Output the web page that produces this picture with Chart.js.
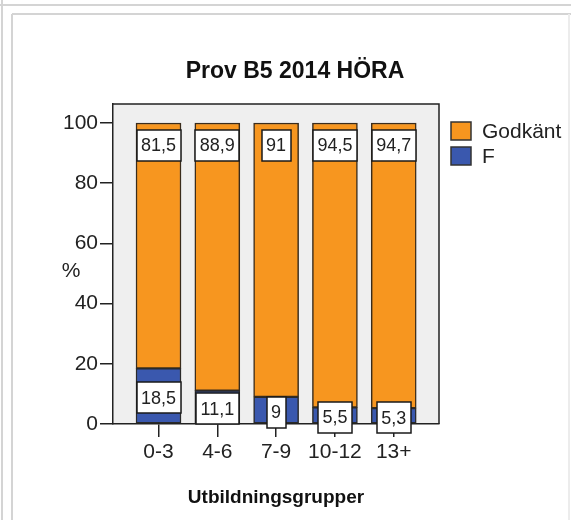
<!DOCTYPE html>
<html>
<head>
<meta charset="utf-8">
<script src="https://cdn.jsdelivr.net/npm/chart.js@4/dist/chart.umd.min.js"></script>
<style>
  html, body { margin: 0; padding: 0; background: #fff; }
  canvas { display: block; }
</style>
</head>
<body>
<canvas id="chart" width="571" height="520"></canvas>
<script>
// ===========================================================================
// data

const categories = ['0-3', '4-6', '7-9', '10-12', '13+'];
const godkantValues = [81.5, 88.9, 91, 94.5, 94.7];
const fValues = [18.5, 11.1, 9, 5.5, 5.3];
const seriesNames = ['Godkänt', 'F'];
const yTickValues = [0, 20, 40, 60, 80, 100];

const chartTitle = 'Prov B5 2014 HÖRA';
const xTitle = 'Utbildningsgrupper';
const yTitle = '%';

const orange = '#F7961F';
const blue = '#3A58AE';
const dark = '#222';
const FONT = '"Liberation Sans", Arial, sans-serif';

// ===========================================================================

function fmt(v) {
  return String(v).replace('.', ',');
}

const framePlugin = {
  id: 'frame',
  beforeDraw(chart) {
    const c = chart.ctx, a = chart.chartArea;
    c.save();
    c.fillStyle = '#fff';
    c.fillRect(0, 0, chart.width, chart.height);
    // light grey page frame
    c.strokeStyle = '#d4d4d4';
    c.lineWidth = 2;
    c.beginPath();
    c.moveTo(0, 5); c.lineTo(chart.width, 5);
    c.moveTo(12, 14); c.lineTo(chart.width, 14);
    c.moveTo(2, 0); c.lineTo(2, chart.height);
    c.moveTo(12, 14); c.lineTo(12, chart.height);
    c.stroke();
    c.strokeStyle = '#ececec';
    c.beginPath();
    c.moveTo(569, 14); c.lineTo(569, chart.height);
    c.stroke();
    // plot background
    c.fillStyle = '#EFEFEF';
    c.fillRect(a.left, a.top, a.right - a.left, a.bottom - a.top);
    c.restore();
  },
  afterDraw(chart) {
    const c = chart.ctx, a = chart.chartArea;
    c.save();
    // top and right border of plot
    c.strokeStyle = dark;
    c.lineWidth = 1.5;
    c.beginPath();
    c.moveTo(a.left, a.top); c.lineTo(a.right, a.top); c.lineTo(a.right, a.bottom);
    c.stroke();

    // title
    c.fillStyle = '#111';
    c.textAlign = 'center';
    c.textBaseline = 'middle';
    c.font = 'bold 23px ' + FONT;
    c.fillText(chartTitle, 295, 72);

    // y title
    c.font = '21px ' + FONT;
    c.fillStyle = dark;
    c.fillText(yTitle, 71, 271);

    // legend
    const items = chart.data.datasets.slice().reverse();
    c.textAlign = 'left';
    items.forEach((ds, k) => {
      const y = 122 + k * 25;
      c.fillStyle = ds.backgroundColor;
      c.fillRect(451, y, 20, 18);
      c.strokeStyle = '#333';
      c.lineWidth = 1.5;
      c.strokeRect(451, y, 20, 18);
      c.fillStyle = dark;
      c.fillText(ds.label, 482, y + 10);
    });
    c.restore();
  },
  afterDatasetsDraw(chart) {
    const c = chart.ctx;
    c.save();
    c.font = '18px ' + FONT;
    c.textAlign = 'center';
    c.textBaseline = 'middle';
    chart.data.datasets.forEach((ds, di) => {
      const meta = chart.getDatasetMeta(di);
      meta.data.forEach((bar, i) => {
        const txt = fmt(ds.data[i].y);
        const w = Math.round(c.measureText(txt).width + 9);
        const h = 31;
        let cy;
        if (di === 0) cy = (bar.y + bar.base) / 2 + 2;
        else cy = bar.y + 7 + h / 2;
        const x0 = Math.round(bar.x - w / 2), y0 = Math.round(cy - h / 2);
        c.fillStyle = '#fff';
        c.fillRect(x0, y0, w, h);
        c.strokeStyle = '#1a1a1a';
        c.lineWidth = 1.5;
        c.strokeRect(x0, y0, w, h);
        c.fillStyle = dark;
        c.fillText(txt, bar.x, cy + 1);
      });
    });
    c.restore();
  }
};

// ===========================================================================

const config = {
  type: 'bar',
  data: {
    datasets: [{
      label: seriesNames[1],
      data: fValues.map((v, i) => ({ x: i, y: v })),
      backgroundColor: blue,
      borderColor: '#2a2a2a',
      borderWidth: 1.5,
      borderSkipped: false,
      barThickness: 45,
    }, {
      label: seriesNames[0],
      data: godkantValues.map((v, i) => ({ x: i, y: v })),
      backgroundColor: orange,
      borderColor: '#3a2c1c',
      borderWidth: 1.5,
      borderSkipped: false,
      barThickness: 45,
    }]
  },
  options: {
    responsive: false,
    animation: false,
    devicePixelRatio: 1,
    layout: { padding: { left: 0, right: 132, top: 104, bottom: 0 } },
    plugins: {
      legend: { display: false },
      title: { display: false },
      tooltip: { enabled: false },
    },
    scales: {
      x: {
        type: 'linear',
        stacked: true,
        offset: false,
        min: -0.774,
        max: 4.77,
        afterBuildTicks: (scale) => {
          scale.ticks = categories.map((c, i) => ({ value: i }));
        },
        afterFit: (scale) => { scale.height = 96; },
        ticks: {
          callback: (v) => categories[v],
          color: dark,
          font: { family: FONT, size: 21 },
          padding: 3,
          maxRotation: 0,
          autoSkip: false,
        },
        grid: {
          offset: false,
          drawOnChartArea: false,
          drawTicks: true,
          tickLength: 13,
          color: dark,
          lineWidth: 1.5,
        },
        border: { color: dark, width: 1.5 },
        title: {
          display: true,
          text: xTitle,
          color: '#111',
          font: { family: FONT, size: 19, weight: 'bold', lineHeight: 1.2 },
          padding: { top: 0, bottom: 11 },
        },
      },
      y: {
        stacked: true,
        min: 0,
        max: 106.3,
        afterBuildTicks: (scale) => {
          scale.ticks = yTickValues.map((v) => ({ value: v }));
        },
        afterFit: (scale) => { scale.width = 113; },
        ticks: {
          color: dark,
          font: { family: FONT, size: 21 },
          padding: 2,
          includeBounds: false,
        },
        grid: {
          drawOnChartArea: false,
          drawTicks: true,
          tickLength: 13,
          color: dark,
          lineWidth: 1.5,
        },
        border: { color: dark, width: 1.5 },
      },
    },
  },
  plugins: [framePlugin],
};

window.mainChart = new Chart(document.getElementById('chart').getContext('2d'), config);
</script>
</body>
</html>
